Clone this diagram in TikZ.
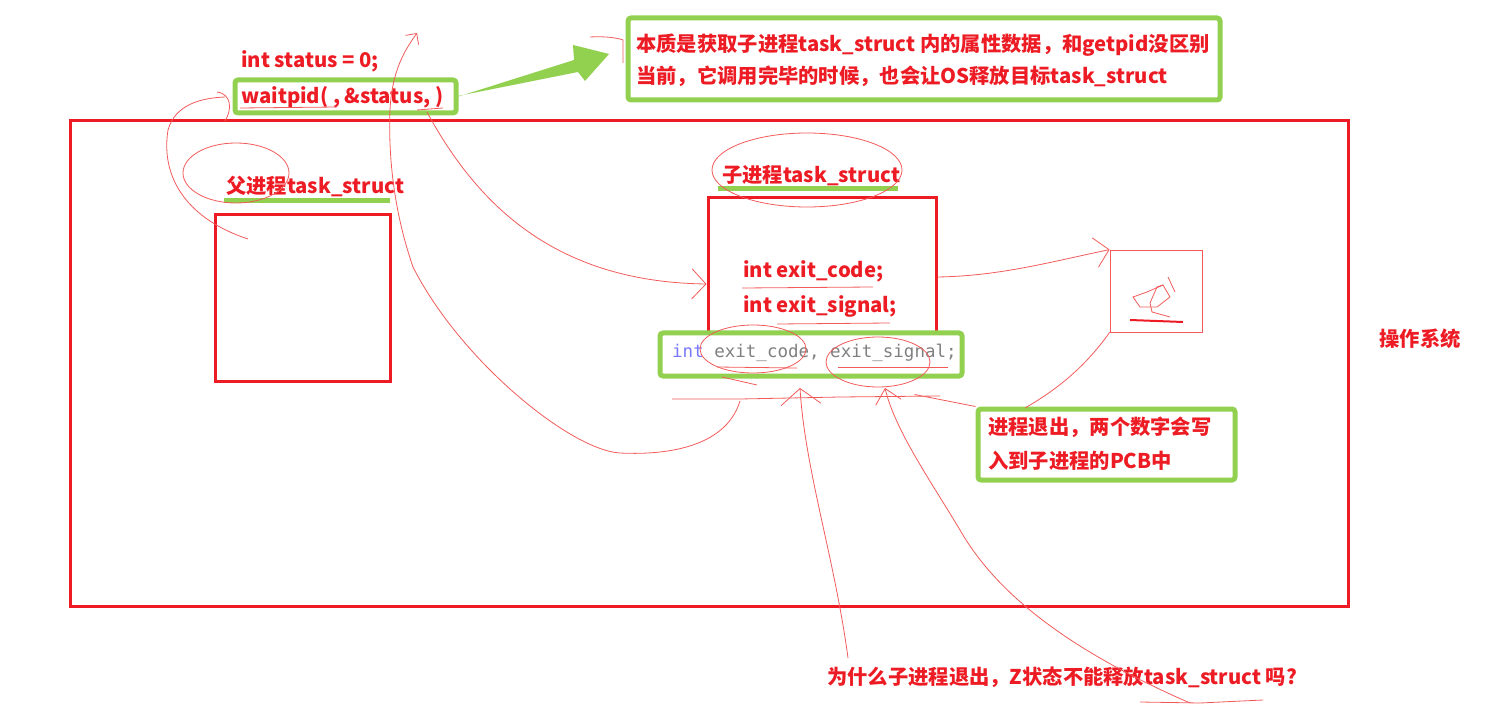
\documentclass[tikz,border=0pt]{standalone}
\usepackage{fontspec}
\setmainfont{Noto Sans CJK SC}
\newfontfamily\codefont{DejaVu Sans Mono}
\usetikzlibrary{arrows.meta,positioning,calc}
\definecolor{osred}{RGB}{237,28,36}
\definecolor{mkgreen}{RGB}{146,208,80}
\definecolor{penred}{RGB}{242,90,90}
\definecolor{kwblue}{RGB}{120,120,255}
\definecolor{codegray}{RGB}{128,128,128}

\begin{document}
\begin{tikzpicture}[
  x=1pt, y=-1pt,
  font=\fontsize{20.3}{23}\selectfont\bfseries,
  redbox/.style={draw=osred, line width=3pt, inner sep=0pt},
  greenbox/.style={draw=mkgreen, line width=5pt, rounded corners=3pt, fill=white, inner sep=0pt},
  greenbar/.style={draw=mkgreen, line width=5pt},
  txt/.style={text=osred, inner sep=0pt, anchor=west},
  pen/.style={draw=penred, line width=0.8pt},
  penarrow/.style={pen, -{Straight Barb[length=14pt, width=30pt]}}
]
\useasboundingbox (0,0) rectangle (1501,708);

\node[redbox, minimum width=1278pt, minimum height=485pt] (os) at (709,363.5) {};
\node[text=osred] (oslabel) at (1420,339) {操作系统};

\node[redbox, minimum width=175pt, minimum height=166pt] (parent) at (302.5,298) {};
\node[txt] (parentlabel) at (226,186) {父进程task\_struct};
\draw[greenbar] (224,201) -- (390,201);

\node[redbox, minimum width=228pt, minimum height=147pt] (child) at (822,271.5) {};
\node[txt] (childlabel) at (722,176) {子进程task\_struct};
\draw[greenbar] (718,189) -- (898,189);
\node[txt] (code) at (743,271) {int exit\_code;};
\node[txt] (signal) at (743,306) {int exit\_signal;};

\node[greenbox, minimum width=302pt, minimum height=43pt] (codebox) at (811,354.5) {};
\node[anchor=west, inner sep=0pt, font=\codefont\fontsize{17.5}{20}\selectfont] (decl) at (672,353)
  {\textcolor{kwblue}{int} \textcolor{codegray}{exit\_code, exit\_signal;}};

\node[txt] (status) at (241,61) {int status = 0;};
\node[greenbox, minimum width=221pt, minimum height=33pt] (waitbox) at (345.5,96.5) {};
\node[txt] (wait) at (241,97) {waitpid( , \&status, )};

\node[greenbox, minimum width=592pt, minimum height=82pt] (note) at (924,59) {};
\node[txt] (noteone) at (636,45) {本质是获取子进程task\_struct 内的属性数据，和getpid没区别};
\node[txt] (notetwo) at (636,76) {当前，它调用完毕的时候，也会让OS释放目标task\_struct};

\node[greenbox, minimum width=257pt, minimum height=71pt] (pcb) at (1106.5,444.5) {};
\node[txt] (pcbone) at (988,427) {进程退出，两个数字会写};
\node[txt] (pcbtwo) at (988,461) {入到子进程的PCB中};

\node[txt] (question) at (827,677) {为什么子进程退出，Z状态不能释放task\_struct 吗?};

\node[draw=penred, line width=0.8pt, minimum width=92pt, minimum height=82pt] (sketch) at (1156,291) {};

\fill[mkgreen] (waitbox.east) -- (574,60) -- (573,45) -- (609,54) -- (585,81) -- (578,72) -- (458,96) -- cycle;

\coordinate (wa) at (427,112);
\coordinate (wb) at (390,110);
\coordinate (wc) at (417,33);
\coordinate (pa) at (248,239);
\coordinate (pb) at (225,97);
\coordinate (ca) at (740,401);
\coordinate (qa) at (848,658);
\coordinate (qb) at (800,388);
\coordinate (qc) at (1190,703);
\coordinate (qd) at (885,388);

\draw[penarrow] (wa) .. controls (480,210) and (560,282) .. (child.west |- 0,284);
\draw[pen, -{Straight Barb[length=8pt, width=16pt]}] (ca) .. controls (725,450) and (660,455) .. (620,453)
  .. controls (570,450) and (460,360) .. (413,267) .. controls (395,215) and (388,160) .. (wb)
  .. controls (392,70) and (405,50) .. (wc);
\draw[pen] (pa) .. controls (190,220) and (160,180) .. (168,130) .. controls (175,105) and (200,98) .. (pb);
\draw[pen] (217,92) .. controls (232,94) and (232,110) .. (225,121);
\draw[pen] (236,173) ellipse [x radius=53, y radius=30];
\draw[pen] (807,170) ellipse [x radius=95, y radius=37];
\draw[pen] (753,349) ellipse [x radius=53, y radius=24];
\draw[pen] (878,362) ellipse [x radius=52, y radius=25];

\draw[pen] (742,288) -- (873,287);
\draw[pen] (777,324) -- (890,323);
\draw[pen] (717,367) -- (797,368);
\draw[pen] (838,367) -- (948,367);
\draw[pen] (240,108) -- (337,107);
\draw[pen] (417,110) -- (443,108);
\draw[pen] (672,399) -- (740,399) -- (840,397) -- (940,396);
\draw[pen] (722,377) -- (757,385);

\draw[pen, -{Straight Barb[length=16pt, width=40pt]}] (qa) .. controls (835,560) and (805,470) .. (qb);
\draw[pen, -{Straight Barb[length=14pt, width=26pt]}] (qc) .. controls (1080,655) and (1000,600) .. (960,530)
  .. controls (930,480) and (895,430) .. (qd);
\draw[pen] (1140,702) -- (1200,703) -- (1263,700);
\draw[pen] (codebox.south east) ++(-50,16) -- (pcb.north west);
\draw[pen] (1025,408) .. controls (1065,385) and (1090,360) .. (sketch.south west);
\draw[penarrow] (child.east |- 0,277) .. controls (1000,276) and (1050,262) .. (sketch.north west);

\draw[pen] (1133,297) -- (1147,292) -- (1163,285) -- (1170,297) -- (1157,307) -- (1140,307) -- cycle;
\draw[pen] (1163,285) -- (1157,287) -- (1150,303) -- (1152,312) -- (1170,317);
\draw[pen] (1168,277) -- (1175,292);
\draw[draw=osred, line width=2pt] (1130,320) -- (1183,322);

\draw[pen] (590,37) .. controls (605,36) and (618,38) .. (623,40) -- (623,63);
\end{tikzpicture}
\end{document}
